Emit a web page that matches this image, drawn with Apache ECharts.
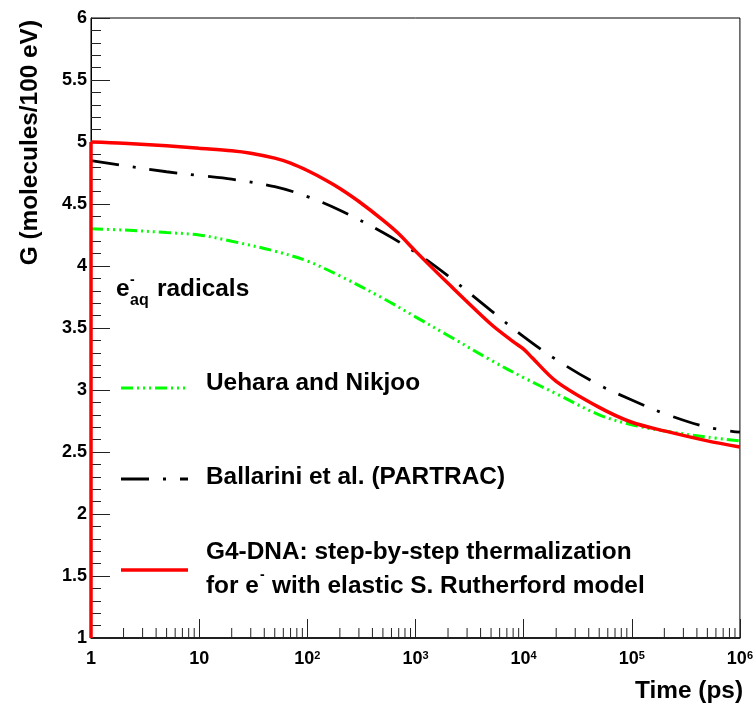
<!DOCTYPE html>
<html>
<head>
<meta charset="utf-8">
<script src="https://cdn.jsdelivr.net/npm/echarts@6/dist/echarts.min.js"></script>
<style>
  html, body { margin: 0; padding: 0; background: #fff; }
  #chart { width: 756px; height: 709px; }
</style>
</head>
<body>
<div id="chart"></div>
<script>
// Hydrated electron yield G(e-aq) versus time after irradiation

// Uehara and Nikjoo
const uehTime = [1, 2, 5, 10, 20, 50, 100, 200, 500, 1000, 2000, 5000, 10000, 20000, 50000, 100000, 200000, 500000, 1000000];
const uehG    = [4.30, 4.29, 4.27, 4.25, 4.20, 4.12, 4.04, 3.92, 3.74, 3.59, 3.44, 3.24, 3.10, 2.97, 2.80, 2.72, 2.67, 2.62, 2.59];

// Ballarini et al. (PARTRAC)
const balTime = [1, 2, 5, 10, 20, 50, 100, 200, 500, 1000, 2000, 5000, 10000, 20000, 50000, 100000, 200000, 500000, 1000000];
const balG    = [4.85, 4.81, 4.76, 4.73, 4.70, 4.64, 4.56, 4.45, 4.27, 4.11, 3.92, 3.64, 3.43, 3.245, 3.04, 2.92, 2.81, 2.70, 2.66];

// G4-DNA step-by-step thermalization
const g4Time = [1, 2, 5, 10, 20, 30, 50, 70, 100, 150, 200, 300, 500, 700, 1000, 2000, 5000, 8000, 10000, 12000, 20000, 50000, 100000, 200000, 500000, 1000000];
const g4G    = [5.00, 4.99, 4.97, 4.95, 4.93, 4.91, 4.87, 4.83, 4.77, 4.69, 4.625, 4.52, 4.37, 4.26, 4.12, 3.86, 3.53, 3.39, 3.33, 3.26, 3.07, 2.86, 2.74, 2.67, 2.59, 2.54];
// its rise from the axis floor at t = 1 ps
const g4RiseTime = [1, 1];
const g4RiseG    = [1.0, 5.00];

// Minor ticks of the logarithmic time axis (2..9 within each decade)
const minorTimeTicks = [];
for (let d = 0; d < 6; d++) {
  for (let k = 2; k <= 9; k++) minorTimeTicks.push(k * Math.pow(10, d));
}

const FONT = '"Liberation Sans", Arial, Helvetica, sans-serif';
const BIG = 24.4;

const pairs = (xs, ys) => xs.map((x, i) => [x, ys[i]]);

// Text placed by its anchor x and alphabetic baseline
function textAt(str, x, baseline, size, align) {
  return {
    type: 'text',
    x: x,
    y: baseline - 0.3465 * size,
    style: {
      text: str,
      font: 'bold ' + size + 'px ' + FONT,
      fill: '#000',
      align: align || 'left',
      verticalAlign: 'middle'
    },
    z: 100
  };
}

function keyLine(y, color, width, dash) {
  return {
    type: 'line',
    shape: { x1: 121, y1: y, x2: 188, y2: y },
    style: { stroke: color, lineWidth: width, lineDash: dash },
    z: 100
  };
}

const greenDash = [12, 4, 2, 4, 2, 4, 2, 4];
const blackDash = [28, 14, 3, 14];

const chart = echarts.init(document.getElementById('chart'), null, { renderer: 'canvas' });

chart.setOption({
  animation: false,
  backgroundColor: '#fff',
  grid: {
    left: 91, right: 13, top: 18, bottom: 71,
    show: true, borderColor: '#000', borderWidth: 1, backgroundColor: 'transparent'
  },
  xAxis: {
    type: 'log',
    logBase: 10,
    min: 1,
    max: 1000000,
    splitNumber: 6,
    axisLine: { show: true, lineStyle: { color: '#000', width: 1.5 } },
    axisTick: { show: true, inside: true, length: 19, lineStyle: { color: '#222', width: 1 } },
    splitLine: { show: false },
    axisLabel: {
      margin: 12,
      showMinLabel: true,
      showMaxLabel: true,
      formatter: function (v) {
        const e = Math.round(Math.log10(v));
        if (e === 0) return '{b|1}';
        if (e === 1) return '{b|10}';
        return '{b|10}{s|' + e + '}';
      },
      rich: {
        b: { fontFamily: FONT, fontWeight: 'bold', fontSize: 18, color: '#000' },
        s: { fontFamily: FONT, fontWeight: 'bold', fontSize: 11, color: '#000', verticalAlign: 'top' }
      }
    }
  },
  yAxis: {
    type: 'value',
    min: 1,
    max: 6,
    interval: 0.5,
    axisLine: { show: true, lineStyle: { color: '#000', width: 1 } },
    axisTick: { show: true, inside: true, length: 19, lineStyle: { color: '#222', width: 1 } },
    minorTick: { show: true, splitNumber: 5, length: 10, lineStyle: { color: '#222', width: 1 } },
    splitLine: { show: false },
    minorSplitLine: { show: false },
    axisLabel: {
      margin: 4,
      showMinLabel: true,
      showMaxLabel: true,
      fontFamily: FONT,
      fontWeight: 'bold',
      fontSize: 18,
      color: '#000'
    }
  },
  series: [
    {
      name: 'minor ticks',
      type: 'custom',
      silent: true,
      clip: false,
      z: 1,
      data: minorTimeTicks.map(v => [v, 1]),
      encode: { x: 0, y: 1 },
      renderItem: function (params, api) {
        const p = api.coord([api.value(0), api.value(1)]);
        return {
          type: 'line',
          shape: { x1: p[0], y1: p[1], x2: p[0], y2: p[1] - 10 },
          style: { stroke: '#222', lineWidth: 1 }
        };
      }
    },
    {
      name: 'Uehara and Nikjoo',
      type: 'line',
      data: pairs(uehTime, uehG),
      showSymbol: false,
      smooth: 0.35,
      lineStyle: { color: '#00ff00', width: 3, type: greenDash },
      z: 3
    },
    {
      name: 'Ballarini et al. (PARTRAC)',
      type: 'line',
      data: pairs(balTime, balG),
      showSymbol: false,
      smooth: 0.35,
      lineStyle: { color: '#000', width: 2.8, type: blackDash },
      z: 4
    },
    {
      name: 'G4-DNA',
      type: 'line',
      data: pairs(g4Time, g4G),
      showSymbol: false,
      smooth: 0.3,
      lineStyle: { color: '#ff0000', width: 3.5 },
      z: 5
    },
    {
      name: 'G4-DNA rise',
      type: 'line',
      data: pairs(g4RiseTime, g4RiseG),
      showSymbol: false,
      clip: false,
      lineStyle: { color: '#ff0000', width: 3.5 },
      z: 5
    }
  ],
  graphic: [
    // Axis titles
    {
      type: 'text',
      x: 30, y: 20,
      rotation: Math.PI / 2,
      style: {
        text: 'G (molecules/100 eV)',
        font: 'bold ' + BIG + 'px ' + FONT,
        fill: '#000', align: 'right', verticalAlign: 'middle'
      },
      z: 100
    },
    textAt('Time (ps)', 743, 700, BIG, 'right'),

    // Species label: e⁻ with subscript aq
    textAt('e', 116, 298, BIG),
    textAt('-', 130, 285, 14),
    textAt('aq', 130, 306, 16),
    textAt('radicals', 157, 298, BIG),

    // Legend keys and entries
    keyLine(388, '#00ff00', 3, greenDash),
    textAt('Uehara and Nikjoo', 206, 392, BIG),

    keyLine(479, '#000', 2.8, blackDash),
    textAt('Ballarini et al. (PARTRAC)', 206, 486, BIG),

    keyLine(570, '#ff0000', 3.5, null),
    textAt('G4-DNA: step-by-step thermalization', 206, 561, BIG),
    textAt('for e', 206, 595, BIG),
    textAt('-', 260, 580, 14),
    textAt('with elastic S. Rutherford model', 272, 595, BIG)
  ]
});
</script>
</body>
</html>
